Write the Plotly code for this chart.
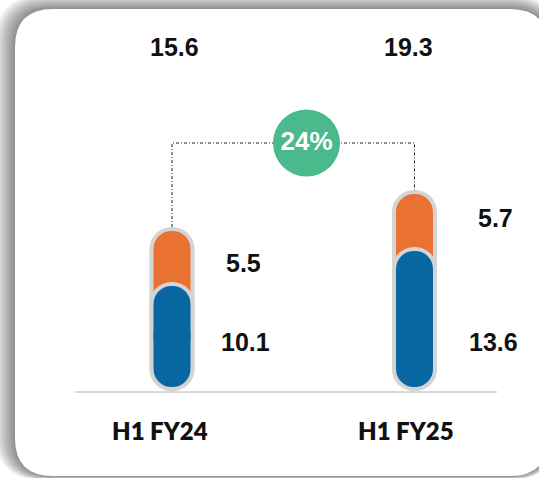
import plotly.graph_objects as go

# ---- data ----
categories = ["H1 FY24", "H1 FY25"]
blue_vals = [10.1, 13.6]
orange_vals = [5.5, 5.7]
totals = [15.6, 19.3]

W, H = 539, 478
# pixel mapping (styles)
KX, BAR0_PX = 242.5, 172.0
KY, ZERO_PX = 10.0, 387.0
xr = [-BAR0_PX / KX, (W - BAR0_PX) / KX]
yr = [-(H - ZERO_PX) / KY, ZERO_PX / KY]

GRAY = "#d4d4d4"
ORANGE = "#E97232"
BLUE = "#0867A1"
GREEN = "#4AB98B"

OUTER_W = 45 / KX
INNER_W = 37 / KX
PAD = 4 / KY

x = [0, 1]
fig = go.Figure()


def pill(lo, hi, width, color):
    # two overlapping bars: one rounded at the top, one rounded at the bottom
    mid_a = [l + (h - l) * 0.3 for l, h in zip(lo, hi)]
    mid_b = [l + (h - l) * 0.7 for l, h in zip(lo, hi)]
    fig.add_trace(go.Bar(x=x, base=mid_a, y=[h - m for h, m in zip(hi, mid_a)],
                         width=width, marker=dict(color=color, cornerradius="50%", line=dict(width=0)),
                         hoverinfo="skip"))
    fig.add_trace(go.Bar(x=x, base=mid_b, y=[l - m for l, m in zip(lo, mid_b)],
                         width=width, marker=dict(color=color, cornerradius="50%", line=dict(width=0)),
                         hoverinfo="skip"))


# connector line
YC = (ZERO_PX - 143) / KY
fig.add_trace(go.Scatter(x=[0, 0, 1, 1], y=[totals[0] + PAD, YC, YC, totals[1] + PAD],
                         mode="lines", line=dict(color="#222222", width=1, dash="3px,2px,1px,2px"),
                         hoverinfo="skip"))

pill([-PAD] * 2, [t + PAD for t in totals], OUTER_W, GRAY)
pill([0, 0], totals, INNER_W, ORANGE)
pill([-PAD] * 2, [b + PAD for b in blue_vals], OUTER_W, GRAY)
pill([0, 0], blue_vals, INNER_W, BLUE)

growth = round((totals[1] / totals[0] - 1) * 100)
fig.add_trace(go.Scatter(x=[(306.5 - BAR0_PX) / KX], y=[YC], mode="markers+text",
                         marker=dict(size=67, color=GREEN, line=dict(width=0)),
                         text=[f"{growth}%"], textposition="middle center",
                         textfont=dict(family="Liberation Sans, Arial", size=26, color="white", weight="bold"),
                         hoverinfo="skip"))


# ---- card background ----
def P(px, py):
    return f"{px / W:.5f},{1 - py / H:.5f}"


def rrect(x0, y0, x1, y1, r):
    return (f"M {P(x0 + r, y0)} L {P(x1 - r, y0)} Q {P(x1, y0)} {P(x1, y0 + r)} "
            f"L {P(x1, y1 - r)} Q {P(x1, y1)} {P(x1 - r, y1)} L {P(x0 + r, y1)} "
            f"Q {P(x0, y1)} {P(x0, y1 - r)} L {P(x0, y0 + r)} Q {P(x0, y0)} {P(x0 + r, y0)} Z")


shapes = []
for i in range(10, 0, -1):
    shapes.append(dict(type="path", xref="paper", yref="paper", layer="below",
                       path=rrect(15 - 2.0 * i, 9 - 1.4 * i, 548 + 1.0 * i, 476 + 0.4 * i, 38 + i),
                       fillcolor="rgba(0,0,0,0.05)", line=dict(width=0)))
shapes.append(dict(type="path", xref="paper", yref="paper", layer="below",
                   path=rrect(15, 9, 548, 476, 38), fillcolor="white", line=dict(width=0)))
# baseline
shapes.append(dict(type="line", xref="paper", yref="y", layer="below",
                   x0=75 / W, x1=497 / W, y0=-PAD - 0.1, y1=-PAD - 0.1,
                   line=dict(color="#d9d9d9", width=2)))

NUMFONT = dict(family="Liberation Sans, Arial", size=25, color="#111111", weight="bold")
ann = []
# totals
tot_xshift = [2, -6]
for i, t in enumerate(totals):
    ann.append(dict(x=i, y=(ZERO_PX - 47) / KY, text=f"{t:.1f}", showarrow=False,
                    xshift=tot_xshift[i], font=NUMFONT))
# segment labels
orange_dx = [71, 80.5]
orange_dy = [-4.5, 4.5]
blue_dx = [73, 78.5]
blue_label_y = (ZERO_PX - 342) / KY
for i in range(2):
    ann.append(dict(x=i, y=blue_vals[i] + orange_vals[i] / 2, text=f"{orange_vals[i]:.1f}",
                    showarrow=False, xshift=orange_dx[i], yshift=orange_dy[i], font=NUMFONT))
    ann.append(dict(x=i, y=blue_label_y, text=f"{blue_vals[i]:.1f}",
                    showarrow=False, xshift=blue_dx[i], font=NUMFONT))
# category labels
cat_dx = [-12, -8.5]
for i, c in enumerate(categories):
    ann.append(dict(x=i, y=(ZERO_PX - 430) / KY, text=c, showarrow=False, xshift=cat_dx[i],
                    font=dict(family="Lato, Open Sans", size=24, color="#111111", weight=800)))

fig.update_layout(
    width=W, height=H, margin=dict(l=0, r=0, t=0, b=0),
    barmode="overlay", showlegend=False,
    paper_bgcolor="white", plot_bgcolor="rgba(0,0,0,0)",
    xaxis=dict(range=xr, visible=False, fixedrange=True),
    yaxis=dict(range=yr, visible=False, fixedrange=True),
    shapes=shapes, annotations=ann,
)

fig.write_html("out.html")
